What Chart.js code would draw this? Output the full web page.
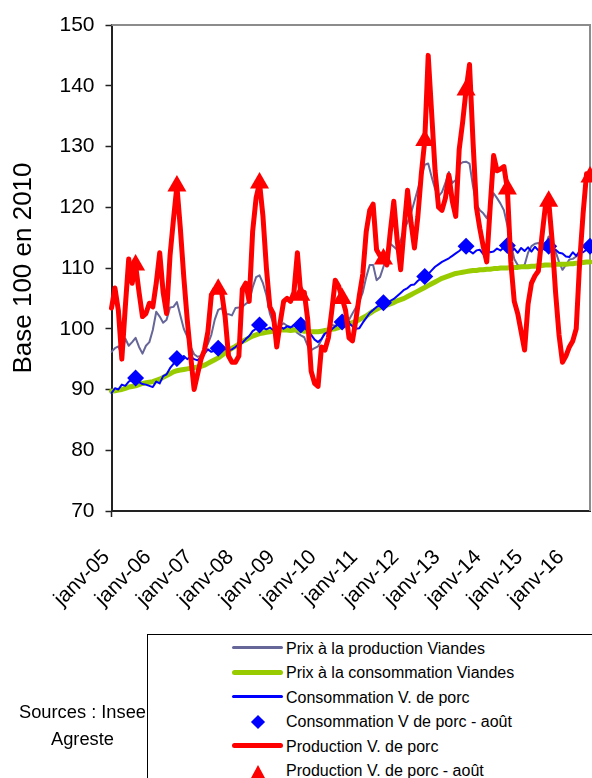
<!DOCTYPE html>
<html lang="fr">
<head>
<meta charset="utf-8">
<title>Prix et production viande de porc</title>
<script src="https://cdn.jsdelivr.net/npm/chart.js@4.4.1/dist/chart.umd.min.js"></script>
<style>
  html, body { margin: 0; padding: 0; background: #fff; }
  #wrap { position: relative; width: 592px; height: 778px; overflow: hidden;
          font-family: "Liberation Sans", Arial, sans-serif; color: #000; }
  #c { position: absolute; left: 0; top: 0; }
  #legend { position: absolute; left: 147px; top: 634px; width: 470px; height: 170px;
            border: 1px solid #000; box-sizing: border-box; background: #fff; }
  .row { position: absolute; left: 0; width: 460px; height: 24px; line-height: 24px; font-size: 16px; }
  .row .txt { position: absolute; left: 138px; top: 0; white-space: nowrap; }
  .row .sample { position: absolute; }
  #sources { position: absolute; left: -3px; top: 698px; width: 171px; text-align: center;
             font-size: 18.3px; line-height: 27px; }
</style>
</head>
<body>
<div id="wrap">
  <canvas id="c" width="592" height="778"></canvas>
  <div id="sources">Sources : Insee<br>Agreste</div>
  <div id="legend"></div>
</div>
<script>
// mois et années (janv-05 -> août-16)
const moisNoms = ["janv", "févr", "mars", "avr", "mai", "juin", "juil", "août", "sept", "oct", "nov", "déc"];
const annees = ["05", "06", "07", "08", "09", "10", "11", "12", "13", "14", "15", "16"];
const nbMois = 140;

// Prix à la production Viandes
const prixProduction = [
  96.2, 96.8, 97.1, 95.6, 98.4, 97.2, 97.8, 98.5, 97.0, 95.9, 97.2, 97.8,
  99.8, 102.8, 102.0, 101.0, 101.5, 103.5, 103.6, 104.4, 102.2, 100.0, 98.7, 97.0,
  95.8, 95.4, 95.5, 96.6, 97.5, 99.0, 101.5, 103.1, 103.4, 102.4, 102.4, 102.2,
  103.4, 103.5, 103.6, 104.1, 104.5, 106.8, 108.5, 108.8, 107.5, 105.5, 102.5, 100.9,
  100.2, 100.5, 100.9, 100.5, 100.3, 100.0, 99.3, 98.9, 98.6, 97.2, 96.5, 96.8,
  97.1, 98.2, 99.5, 99.5, 100.6, 100.5, 100.9, 101.2, 101.8, 101.5, 102.5, 103.5,
  104.5, 106.0, 108.5, 110.5, 110.5, 108.0, 108.5, 110.2, 112.0, 114.0, 113.5, 113.0,
  114.5, 116.5, 117.5, 119.0, 121.0, 123.0, 125.0, 127.0, 127.2, 125.0, 123.0, 121.8,
  122.5, 124.0, 125.8, 124.0, 124.5, 127.0, 127.4, 127.5, 127.2, 123.5, 120.5, 119.5,
  119.0, 118.2, 120.0, 122.3, 121.5, 120.6, 119.5, 117.0, 114.0, 111.5, 110.5, 110.2,
  110.5, 112.5, 113.6, 114.0, 114.1, 113.6, 113.6, 115.2, 114.0, 112.7, 111.0, 109.7,
  110.5, 111.4, 111.5, 111.9, 112.5, 113.6, 113.7, 113.8
];

// Prix à la consommation Viandes
const prixConsommation = [
  89.7, 89.8, 89.9, 90.0, 90.2, 90.4, 90.5, 90.6, 90.8, 91.0, 91.1, 91.2,
  91.3, 91.5, 91.7, 92.0, 92.3, 92.6, 92.9, 93.1, 93.2, 93.3, 93.4, 93.5,
  93.6, 93.7, 93.8, 94.0, 94.3, 94.6, 94.9, 95.2, 95.6, 96.0, 96.4, 96.8,
  97.1, 97.5, 97.9, 98.2, 98.5, 98.8, 99.0, 99.2, 99.3, 99.4, 99.5, 99.6,
  99.7, 99.8, 99.8, 99.8, 99.7, 99.8, 99.8, 99.7, 99.6, 99.6, 99.5, 99.5,
  99.5, 99.6, 99.7, 99.8, 99.9, 100.0, 100.2, 100.4, 100.6, 100.8, 101.0, 101.2,
  101.5, 101.8, 102.1, 102.5, 102.9, 103.2, 103.5, 103.7, 103.9, 104.1, 104.3, 104.6,
  104.8, 105.0, 105.3, 105.6, 105.9, 106.2, 106.5, 106.8, 107.1, 107.4, 107.7, 108.0,
  108.3, 108.5, 108.7, 108.9, 109.1, 109.2, 109.3, 109.4, 109.5, 109.6, 109.6, 109.7,
  109.7, 109.8, 109.8, 109.9, 109.9, 110.0, 110.0, 110.0, 110.1, 110.1, 110.1, 110.2,
  110.2, 110.2, 110.3, 110.3, 110.4, 110.4, 110.5, 110.5, 110.5, 110.6, 110.6, 110.6,
  110.6, 110.7, 110.7, 110.8, 110.8, 110.9, 111.0, 111.0
];

// Consommation V. de porc
const consoPorc = [
  89.4, 90.2, 90.0, 90.8, 90.6, 91.3, 91.6, 91.9, 91.2, 90.9, 90.8, 90.6,
  90.4, 91.3, 91.0, 92.2, 92.5, 93.5, 94.2, 95.1, 95.0, 95.5, 95.0, 95.4,
  95.0, 94.8, 95.3, 95.9, 96.6, 96.2, 96.4, 96.8, 96.3, 96.7, 96.4, 96.6,
  97.0, 97.5, 97.7, 98.3, 98.8, 99.6, 100.0, 100.6, 100.1, 99.9, 100.2, 99.8,
  99.9, 100.3, 100.0, 100.4, 100.2, 100.6, 100.3, 100.6, 100.2, 99.6, 99.0, 98.2,
  97.8, 98.3, 99.2, 99.5, 99.9, 100.4, 100.8, 101.1, 100.6, 100.9, 100.4, 100.0,
  100.1, 101.0, 101.8, 102.6, 103.1, 103.6, 103.9, 104.3, 104.0, 104.6, 104.9, 105.4,
  105.9, 106.4, 106.7, 107.2, 107.3, 107.9, 108.3, 108.6, 109.0, 109.6, 110.2, 110.6,
  111.0, 111.3, 111.6, 112.0, 112.4, 112.8, 113.3, 113.6, 112.8, 112.4, 112.9, 113.0,
  112.3, 113.1, 112.6, 112.7, 113.2, 112.9, 113.4, 113.7, 112.6, 113.2, 112.5, 113.3,
  112.8, 113.4, 112.7, 113.5, 112.9, 113.2, 113.0, 113.6, 112.8, 113.0, 112.5, 112.4,
  111.9, 111.8, 112.6, 112.0, 112.8, 112.6, 113.0, 113.6
];

// Production V. de porc
const prodPorc = [
  103.4, 106.7, 103.0, 95.0, 103.5, 111.5, 107.5, 110.5, 106.0, 102.0, 102.5, 104.2,
  103.6, 107.5, 112.5, 106.0, 102.5, 112.0, 118.0, 123.5, 116.5, 108.5, 101.5, 95.5,
  90.0, 92.5, 95.0, 96.5, 99.5, 105.5, 106.5, 106.5, 106.0, 102.0, 95.5, 94.5,
  94.5, 95.5, 106.5, 107.5, 104.5, 116.0, 121.5, 124.0, 118.5, 110.0, 103.6, 102.5,
  97.0, 101.0, 104.5, 105.0, 104.5, 106.0, 112.5, 105.5, 106.0, 101.5, 93.0, 91.0,
  90.5, 97.0, 96.5, 98.5, 103.0, 108.0, 107.0, 105.0, 103.0, 98.5, 98.0, 101.5,
  105.5, 109.0, 116.0, 119.5, 120.5, 113.0, 112.0, 111.5, 110.5, 116.0, 121.0, 114.5,
  109.7, 116.5, 122.8, 117.5, 113.3, 118.5, 125.5, 131.0, 145.0, 135.5, 126.0, 120.0,
  119.5, 121.5, 125.3, 121.0, 118.5, 129.5, 134.0, 139.3, 143.5, 131.0, 120.0, 116.5,
  113.5, 111.0, 120.0, 128.5, 126.0, 126.3, 126.7, 123.0, 111.0, 104.5, 102.5, 99.5,
  96.5, 104.0, 107.5, 108.7, 109.5, 115.0, 120.0, 121.0, 114.5, 106.0, 99.0, 94.5,
  95.5, 97.0, 98.0, 100.0, 111.0, 119.0, 125.5, 125.0
];

const yMin = 70, yMax = 150, yPas = 10;

const categories = [];
for (let i = 0; i < nbMois; i++) {
  categories.push(moisNoms[i % 12] + "-" + annees[Math.floor(i / 12)]);
}
// valeurs du mois d'août seulement
const seulAout = arr => arr.map((v, i) => (i % 12 === 7 ? v : null));

Chart.defaults.font.family = "'Liberation Sans', Arial, sans-serif";
Chart.defaults.color = "#000";

// cadre gris haut / droite
const cadre = {
  id: "cadre",
  beforeDatasetsDraw(chart) {
    const { ctx, chartArea: a } = chart;
    ctx.save();
    ctx.strokeStyle = "#8c8c8c";
    ctx.lineWidth = 2;
    ctx.beginPath();
    ctx.moveTo(a.left, a.top);
    ctx.lineTo(a.right, a.top);
    ctx.lineTo(a.right, a.bottom);
    ctx.stroke();
    ctx.restore();
  }
};

const chart = new Chart(document.getElementById("c"), {
  type: "line",
  data: {
    labels: categories,
    datasets: [
      { label: "Prix à la production Viandes", data: prixProduction, borderColor: "#666699",
        borderWidth: 2, pointRadius: 0, order: 6, legendLine: 3 },
      { label: "Prix à la consommation Viandes", data: prixConsommation, borderColor: "#99CC00",
        borderWidth: 5, pointRadius: 0, order: 5, legendLine: 5 },
      { label: "Consommation V. de porc", data: consoPorc, borderColor: "#0000FF",
        borderWidth: 2, pointRadius: 0, order: 4, legendLine: 3 },
      { label: "Consommation V de porc - août", data: seulAout(consoPorc), showLine: false,
        pointStyle: "rectRot", pointRadius: 8.5, backgroundColor: "#0000FF", borderColor: "#0000FF",
        borderWidth: 0, order: 3, clip: false },
      { label: "Production V. de porc", data: prodPorc, borderColor: "#FF0000",
        borderWidth: 5, pointRadius: 0, order: 2, legendLine: 5 },
      { label: "Production V. de porc - août", data: seulAout(prodPorc), showLine: false,
        pointStyle: "triangle", pointRadius: 11, backgroundColor: "#FF0000", borderColor: "#FF0000",
        borderWidth: 0, order: 1, clip: false }
    ]
  },
  options: {
    responsive: false,
    animation: false,
    layout: { autoPadding: false, padding: { left: 0, top: 25, right: 2, bottom: 157 } },
    elements: { line: { tension: 0, borderJoinStyle: "round", borderCapStyle: "round" } },
    plugins: { legend: { display: false }, tooltip: { enabled: false } },
    scales: {
      x: {
        type: "category",
        offset: false,
        border: { color: "#222", width: 2 },
        grid: {
          drawOnChartArea: false, tickLength: 6, tickWidth: 1.5,
          tickColor: ctx => (ctx.index % 12 === 0 ? "#222" : "rgba(0,0,0,0)")
        },
        ticks: {
          autoSkip: false, minRotation: 45, maxRotation: 45, padding: 28, labelOffset: -5,
          font: { size: 21 }, color: "#000",
          callback: function (v, i) { return i % 12 === 0 ? this.getLabelForValue(v) : null; }
        },
        afterFit(s) {
          s.height = 110;
          s.paddingLeft = 0;
          s.paddingRight = 0;
        }
      },
      y: {
        min: yMin, max: yMax,
        border: { color: "#222", width: 2 },
        grid: { drawOnChartArea: false, tickLength: 6, tickWidth: 1.5, tickColor: "#222" },
        ticks: { stepSize: yPas, padding: 11, font: { size: 21 }, color: "#000" },
        title: {
          display: true, text: "Base 100 en 2010", color: "#000",
          font: { size: 26 }, padding: { top: 8, bottom: 0 }
        },
        afterFit(s) {
          s.width = 111.5;
          s.paddingTop = 0;
          s.paddingBottom = 0;
        }
      }
    }
  },
  plugins: [cadre]
});

// légende HTML à partir des séries
const legende = document.getElementById("legend");
chart.data.datasets.forEach((ds, k) => {
  const row = document.createElement("div");
  row.className = "row";
  row.style.top = (1.8 + k * 24.45) + "px";
  const s = document.createElement("div");
  s.className = "sample";
  if (ds.showLine === false && ds.pointStyle === "rectRot") {
    Object.assign(s.style, { left: "104.7px", top: "7px", width: "10px", height: "10px",
      background: ds.backgroundColor, transform: "rotate(45deg)" });
  } else if (ds.showLine === false) {
    Object.assign(s.style, { left: "102.7px", top: "6px", width: "0", height: "0",
      borderLeft: "7px solid transparent", borderRight: "7px solid transparent",
      borderBottom: "13px solid " + ds.backgroundColor });
  } else {
    const h = ds.legendLine;
    Object.assign(s.style, { left: "84px", width: "51px", height: h + "px",
      top: (11 - h / 2) + "px", background: ds.borderColor, borderRadius: (h / 2) + "px" });
  }
  const t = document.createElement("span");
  t.className = "txt";
  t.textContent = ds.label;
  row.appendChild(s);
  row.appendChild(t);
  legende.appendChild(row);
});
</script>
</body>
</html>
